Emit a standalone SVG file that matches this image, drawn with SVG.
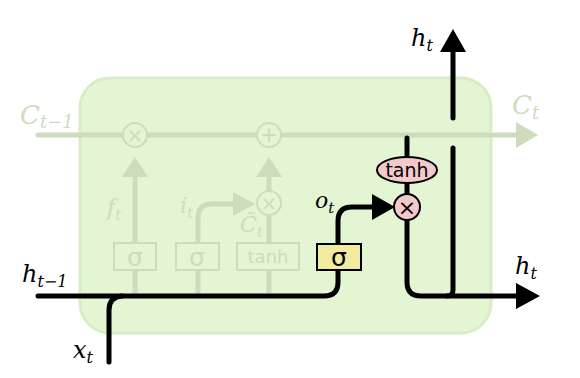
<svg xmlns="http://www.w3.org/2000/svg" width="580" height="378" viewBox="0 0 580 378">
<defs>
<style>
.bg{fill:#e4f5d4;stroke:#d8ecc5;stroke-width:3}
.fl{fill:none;stroke:#cddcbd;stroke-width:5;stroke-linecap:round}
.fa{fill:#cddcbd}
.fc{fill:#e4f5d4;stroke:#cddcbd;stroke-width:2}
.fb{fill:#e4f5d4;stroke:#cddcbd;stroke-width:2}
.ft{font-family:"DejaVu Sans",sans-serif;fill:#cddcbd}
.bl{fill:none;stroke:#000;stroke-width:5;stroke-linecap:round}
.ba{fill:#000}
.m{font-family:"DejaVu Serif",serif;font-style:italic}
.mf{font-family:"DejaVu Serif",serif;font-style:italic;fill:#cddcbd}
.k{font-family:"DejaVu Sans",sans-serif}
</style>
</defs>
<rect class="bg" x="80" y="78" width="411" height="255" rx="30"/>
<g id="connectors">
<path class="fl" d="M38 135 H518"/>
<polygon class="fa" points="516,122 538,135 516,148"/>
<path class="fl" d="M135 296 V175"/>
<polygon class="fa" points="122,177 135,157 148,177"/>
<path class="fl" d="M269 296 V215"/>
<path class="fl" d="M269 191 V175"/>
<polygon class="fa" points="256,177 269,157 282,177"/>
<path class="fl" d="M198 296 V218 Q198 204 212 204 H236"/>
<polygon class="fa" points="233,192 255,204 233,216"/>
<path class="bl" d="M38 296 H324 Q338 296 338 282 V271"/>
<path class="bl" d="M109 362 V310 Q109 297 122 296"/>
<path class="bl" d="M338 243 V221 Q338 207 352 207 H375"/>
<polygon class="ba" points="372,194 395,207 372,220"/>
<path class="bl" d="M407 138 V157"/>
<path class="bl" d="M407 183 V194"/>
<path class="bl" d="M407 220 V282 Q407 296 421 296 H519"/>
<polygon class="ba" points="516,283 540,296 516,309"/>
<path class="bl" d="M453 148 V290 Q453 296 447 296"/>
<path class="bl" d="M453 118 V50"/>
<polygon class="ba" points="440,52 453,29 466,52"/>
</g>
<g id="forget-mult"><circle class="fc" cx="135" cy="135" r="12"/><text class="ft" x="135" y="142" font-size="20" text-anchor="middle">×</text></g>
<g id="cell-add"><circle class="fc" cx="269" cy="135" r="12"/><text class="ft" x="269" y="142" font-size="22" text-anchor="middle">+</text></g>
<g id="input-mult"><circle class="fc" cx="269" cy="203" r="12"/><text class="ft" x="269" y="210" font-size="20" text-anchor="middle">×</text></g>
<g id="sigma-f"><rect class="fb" x="114" y="243" width="42" height="27"/><text class="ft" x="135" y="266" font-size="25" text-anchor="middle">σ</text></g>
<g id="sigma-i"><rect class="fb" x="176" y="243" width="43" height="27"/><text class="ft" x="197" y="266" font-size="25" text-anchor="middle">σ</text></g>
<g id="tanh-c"><rect class="fb" x="237" y="243" width="62" height="27"/><text class="ft" x="268" y="263" font-size="18" text-anchor="middle">tanh</text></g>
<g id="sigma-o"><rect x="317" y="244" width="44" height="26" fill="#f1ea9f" stroke="#000" stroke-width="2"/><text class="k" x="339" y="266" font-size="25" text-anchor="middle">σ</text></g>
<g id="tanh-out"><ellipse cx="407" cy="170" rx="30" ry="13" fill="#f4c9cb" stroke="#000" stroke-width="2"/><text class="k" x="407" y="177" font-size="19" text-anchor="middle">tanh</text></g>
<g id="out-mult"><circle cx="407" cy="207" r="13" fill="#f4c9cb" stroke="#000" stroke-width="2"/><text class="k" x="407" y="215" font-size="22" text-anchor="middle">×</text></g>
<g id="labels">
<text class="mf" x="20" y="124" font-size="26">C<tspan font-size="18" dy="4">t−1</tspan></text>
<text class="mf" x="512" y="114" font-size="26">C<tspan font-size="18" dy="5">t</tspan></text>
<text class="mf" x="107" y="215" font-size="22">f<tspan font-size="15" dy="5">t</tspan></text>
<text class="mf" x="180" y="213" font-size="22">i<tspan font-size="15" dy="5">t</tspan></text>
<text class="mf" x="240" y="232" font-size="22">C̃<tspan font-size="15" dy="5">t</tspan></text>
<text class="m" x="315" y="208" font-size="22">o<tspan font-size="15" dy="5">t</tspan></text>
<text class="m" x="411" y="46" font-size="24">h<tspan font-size="16" dy="5">t</tspan></text>
<text class="m" x="515" y="274" font-size="24">h<tspan font-size="16" dy="5">t</tspan></text>
<text class="m" x="22" y="282" font-size="24">h<tspan font-size="16" dy="5">t−1</tspan></text>
<text class="m" x="73" y="358" font-size="24">x<tspan font-size="16" dy="5">t</tspan></text>
</g>
</svg>
